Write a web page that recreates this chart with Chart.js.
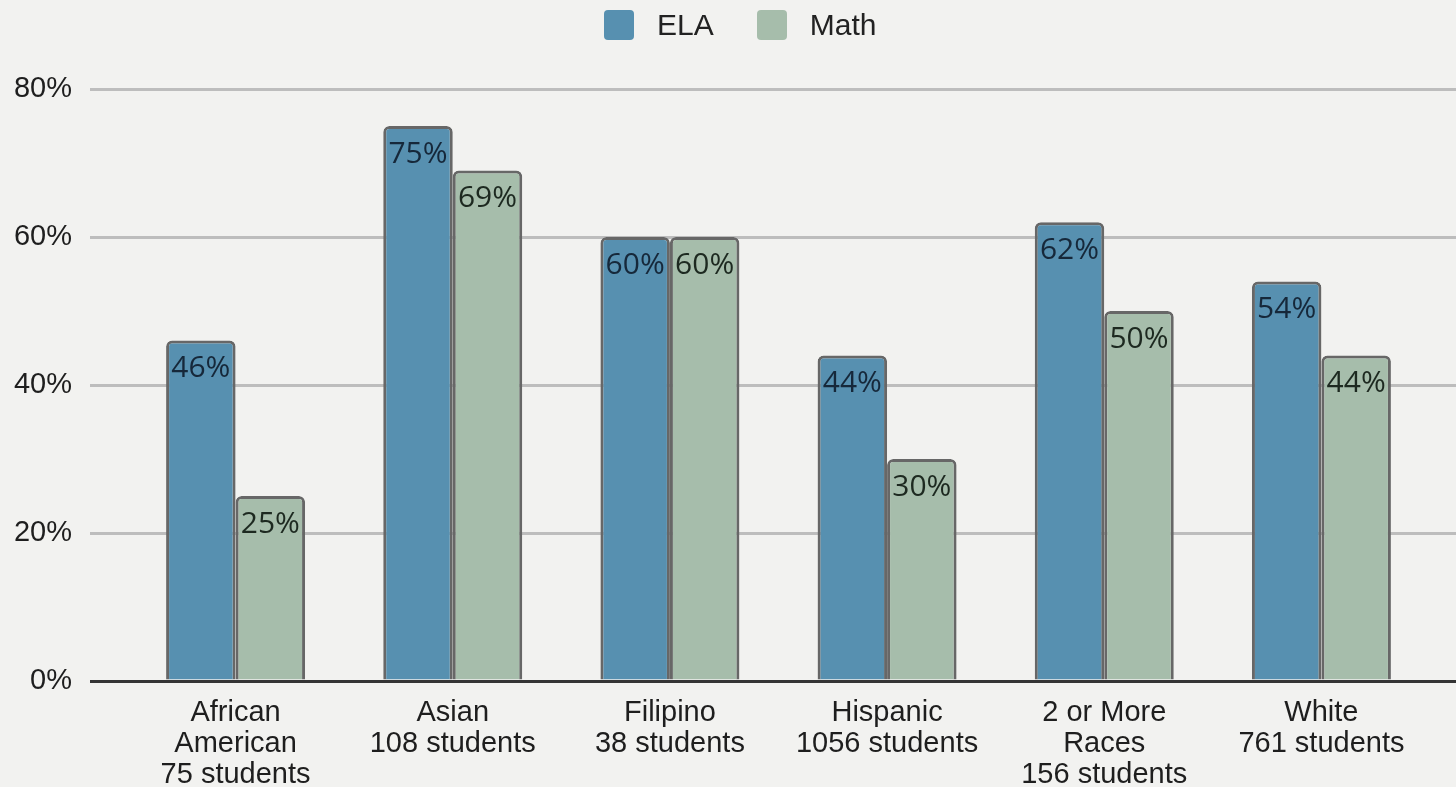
<!DOCTYPE html>
<html>
<head>
<meta charset="utf-8">
<script src="https://cdn.jsdelivr.net/npm/chart.js@4/dist/chart.umd.min.js"></script>
<style>
  html, body { margin: 0; padding: 0; background: #f2f2f0; overflow: hidden; }
  #wrap { position: relative; width: 1456px; height: 787px; }
  #legend { position: absolute; top: 10px; left: 604px; display: flex; gap: 43px;
    font: 30px "Liberation Sans", Arial, sans-serif; color: #222; }
  #legend .item { display: flex; align-items: center; gap: 23px; height: 30px; }
  #legend .box { width: 30px; height: 30px; border-radius: 4px; }
</style>
</head>
<body>
<div id="wrap">
  <div id="legend"></div>
  <canvas id="scores" width="1456" height="787"></canvas>
</div>
<script>
'use strict';

const groups = [
  ['African', 'American', '75 students'],
  ['Asian', '108 students'],
  ['Filipino', '38 students'],
  ['Hispanic', '1056 students'],
  ['2 or More', 'Races', '156 students'],
  ['White', '761 students']
];
const elaScores = [46, 75, 60, 44, 62, 54];
const mathScores = [25, 69, 60, 30, 50, 44];
const yTicks = [0, 20, 40, 60, 80];

const AXIS_FONT = '"Liberation Sans", Arial, sans-serif';
const gridColor = (ctx) => (ctx.tick && ctx.tick.value === 0 ? '#353535' : '#bdbdbd');

const series = [
  { label: 'ELA', data: elaScores, color: '#5790b0', text: '#16283a' },
  { label: 'Math', data: mathScores, color: '#a6bdab', text: '#1d2920' }
];

// legend sits in the page, above the canvas
const legend = document.getElementById('legend');
series.forEach((s) => {
  const item = document.createElement('div');
  item.className = 'item';
  const box = document.createElement('span');
  box.className = 'box';
  box.style.background = s.color;
  const txt = document.createElement('span');
  txt.textContent = s.label;
  item.append(box, txt);
  legend.appendChild(item);
});

// percentage printed just under the top edge of every bar
const valueLabels = {
  id: 'valueLabels',
  afterDatasetsDraw(chart) {
    const { ctx } = chart;
    ctx.save();
    ctx.font = '30px "Open Sans", sans-serif';
    ctx.textAlign = 'center';
    ctx.textBaseline = 'middle';
    chart.data.datasets.forEach((ds, i) => {
      ctx.fillStyle = series[i].text;
      chart.getDatasetMeta(i).data.forEach((bar, j) => {
        ctx.fillText(ds.data[j] + '%', bar.x, bar.y + 28);
      });
    });
    ctx.restore();
  }
};

const yScale = {
  min: 0,
  max: 80,
  afterBuildTicks: (s) => { s.ticks = yTicks.map((v) => ({ value: v })); },
  border: { display: false },
  grid: { color: gridColor, lineWidth: 3, tickLength: 37 }
};

new Chart(document.getElementById('scores').getContext('2d'), {
  type: 'bar',
  data: {
    labels: groups,
    datasets: series.map((s) => ({
      label: s.label,
      data: s.data,
      backgroundColor: s.color,
      borderColor: '#676767',
      borderWidth: 3,
      borderRadius: { topLeft: 6, topRight: 6 },
      borderSkipped: 'bottom',
      barPercentage: 1,
      categoryPercentage: 0.64
    }))
  },
  options: {
    responsive: false,
    animation: false,
    layout: { padding: { top: 89, left: 0, right: 0, bottom: 0 } },
    plugins: { legend: { display: false }, tooltip: { enabled: false } },
    scales: {
      x: {
        grid: { display: false },
        border: { display: false },
        afterFit: (s) => { s.height = 106; },
        ticks: {
          padding: 8,
          maxRotation: 0,
          autoSkip: false,
          color: '#1e1e1e',
          font: { family: AXIS_FONT, size: 29, lineHeight: '31px' }
        }
      },
      y: {
        ...yScale,
        afterFit: (s) => { s.width = 127; },
        ticks: {
          padding: 18,
          color: '#1e1e1e',
          font: { family: AXIS_FONT, size: 29 },
          callback: (v) => v + '%'
        }
      },
      // right-hand stub so the grid runs out to the edge
      y2: {
        ...yScale,
        position: 'right',
        grid: { color: gridColor, lineWidth: 3, tickLength: 26, drawOnChartArea: false },
        ticks: { display: false }
      }
    }
  },
  plugins: [valueLabels]
});
</script>
</body>
</html>
